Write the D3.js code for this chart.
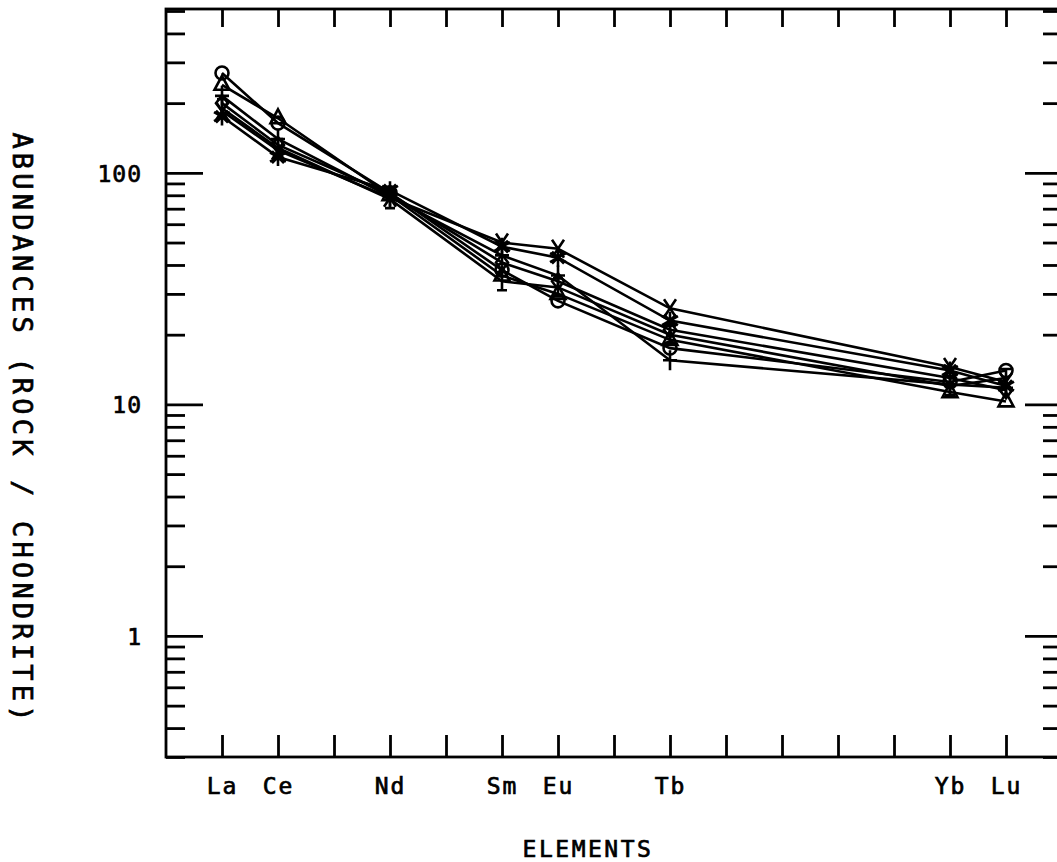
<!DOCTYPE html>
<html>
<head>
<meta charset="utf-8">
<script src="https://cdn.jsdelivr.net/npm/d3@7"></script>
<style>
  body { margin: 0; background: #fff; }
  text { font-family: "DejaVu Sans Mono", monospace; fill: #000; stroke: #000; stroke-width: 0.7px; }
</style>
</head>
<body>
<svg id="chart" width="1057" height="862"></svg>
<script>
// REE elements (atomic number + symbol)
const elements = [57, 58, 60, 62, 63, 65, 70, 71];
const elementNames = { 57: 'La', 58: 'Ce', 60: 'Nd', 62: 'Sm', 63: 'Eu', 65: 'Tb', 70: 'Yb', 71: 'Lu' };

// chondrite-normalised abundances, one array per sample
const sampleCircle   = [270, 164, 82, 38, 28, 17.5, 12.5, 14];
const sampleTriangle = [240, 172, 80, 36, 30, 19, 11.3, 10.3];
const sampleCross    = [185, 125, 78, 50, 47, 26, 14.5, 12.5];
const sampleStar     = [175, 117, 84, 48, 43, 23, 14, 12];
const samplePlus     = [215, 140, 79, 44, 36, 15.5, 12.2, 11.8];
const sampleDiamond  = [200, 132, 81, 41, 34, 21, 13, 11.5];
const sampleBar      = [190, 128, 77, 34, 32, 20, 12, 13];

const yMajor = [1, 10, 100];
const yMinor = [0.3, 0.4, 0.5, 0.6, 0.7, 0.8, 0.9,
  2, 3, 4, 5, 6, 7, 8, 9, 20, 30, 40, 50, 60, 70, 80, 90, 200, 300, 400, 500];
const xTicks = d3.range(57, 72);

const series = [
  { values: sampleCircle, mark: 'circle' },
  { values: sampleTriangle, mark: 'triangle' },
  { values: sampleCross, mark: 'cross' },
  { values: sampleStar, mark: 'star' },
  { values: samplePlus, mark: 'plus' },
  { values: sampleDiamond, mark: 'diamond' },
  { values: sampleBar, mark: 'bar' }
];

const svg = d3.select('#chart');
const plotLeft = 166, plotRight = 1062, plotTop = 9, plotBottom = 757;

const x = d3.scaleLinear().domain([56, 72]).range([plotLeft, plotRight]);
const y = d3.scaleLog().domain([0.3, 510]).range([plotBottom, plotTop]);

// frame
svg.append('rect')
  .attr('x', plotLeft).attr('y', plotTop)
  .attr('width', plotRight - plotLeft).attr('height', plotBottom - plotTop)
  .attr('fill', 'none').attr('stroke', '#000').attr('stroke-width', 2.8);

function styleAxis(g) {
  g.select('.domain').remove();
  g.selectAll('line').attr('stroke', '#000').attr('stroke-width', 2.8);
  g.selectAll('text').attr('font-family', '"DejaVu Sans Mono", monospace').attr('fill', '#000');
}

// left axis, inward ticks
svg.append('g').attr('transform', `translate(${plotLeft},0)`)
  .call(d3.axisLeft(y).tickValues(yMajor).tickSize(-37).tickPadding(24).tickFormat(d3.format('d')))
  .call(styleAxis)
  .call(g => g.selectAll('text').attr('font-size', 23).attr('dy', '0.36em').attr('letter-spacing', 1));
svg.append('g').attr('transform', `translate(${plotLeft},0)`)
  .call(d3.axisLeft(y).tickValues(yMinor).tickSize(-19).tickFormat(''))
  .call(styleAxis);

// right axis, inward ticks
svg.append('g').attr('transform', `translate(${plotRight},0)`)
  .call(d3.axisRight(y).tickValues(yMajor).tickSize(-37).tickFormat(''))
  .call(styleAxis);
svg.append('g').attr('transform', `translate(${plotRight},0)`)
  .call(d3.axisRight(y).tickValues(yMinor).tickSize(-19).tickFormat(''))
  .call(styleAxis);

// bottom and top axes
svg.append('g').attr('transform', `translate(0,${plotBottom})`)
  .call(d3.axisBottom(x).tickValues(xTicks).tickSize(-22).tickPadding(21)
    .tickFormat(d => elementNames[d] || ''))
  .call(styleAxis)
  .call(g => g.selectAll('text').attr('font-size', 23).attr('letter-spacing', 2));
svg.append('g').attr('transform', `translate(0,${plotTop})`)
  .call(d3.axisTop(x).tickValues(xTicks).tickSize(-18).tickFormat(''))
  .call(styleAxis);

// axis titles
svg.append('text')
  .attr('x', 588).attr('y', 857)
  .attr('text-anchor', 'middle')
  .attr('font-size', 23).attr('letter-spacing', 2.5)
  .text('ELEMENTS');

svg.append('text')
  .attr('transform', 'translate(13,429) rotate(90)')
  .attr('text-anchor', 'middle')
  .attr('font-size', 27).attr('letter-spacing', 4.2)
  .text('ABUNDANCES (ROCK / CHONDRITE)');

// lines
const line = d3.line()
  .x((d, i) => x(elements[i]))
  .y(d => y(d));

const plot = svg.append('g');
plot.selectAll('path.sample')
  .data(series)
  .enter()
  .append('path')
  .attr('class', 'sample')
  .attr('d', d => line(d.values))
  .attr('fill', 'none')
  .attr('stroke', '#000')
  .attr('stroke-width', 2.6);

// markers
const markPath = {
  circle: 'M-6.5,0a6.5,6.5 0 1,0 13,0a6.5,6.5 0 1,0 -13,0',
  triangle: 'M0,-9L7.5,5L-7.5,5Z',
  cross: 'M-6,-9L6,9M6,-9L-6,9',
  star: 'M0,-9V9M-8,-4.5L8,4.5M-8,4.5L8,-4.5M-6,-6L6,6M6,-6L-6,6',
  plus: 'M0,-10V10M-7,0H7',
  diamond: 'M0,-8L6,0L0,8L-6,0Z',
  bar: 'M0,-9V9M-5,-9H5M-5,9H5'
};

series.forEach(s => {
  plot.append('g').selectAll('path')
    .data(s.values)
    .enter()
    .append('path')
    .attr('transform', (d, i) => `translate(${x(elements[i])},${y(d)})`)
    .attr('d', markPath[s.mark])
    .attr('fill', 'none')
    .attr('stroke', '#000')
    .attr('stroke-width', 2.6);
});
</script>
</body>
</html>
